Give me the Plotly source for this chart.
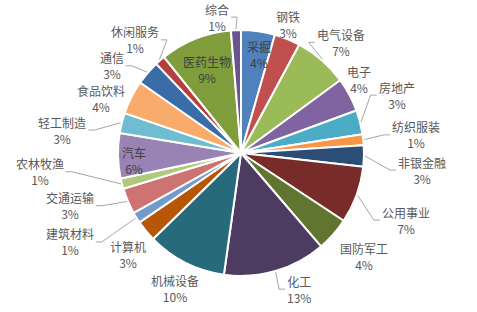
import math
import plotly.graph_objects as go

labels = ["采掘", "钢铁", "电气设备", "电子", "房地产", "纺织服装", "非银金融", "公用事业",
          "国防军工", "化工", "机械设备", "计算机", "建筑材料", "交通运输", "农林牧渔", "汽车",
          "轻工制造", "食品饮料", "通信", "休闲服务", "医药生物", "综合"]
values = [4.45, 3.40, 7.08, 4.45, 3.18, 1.42, 2.81, 7.49, 4.45, 13.49, 10.45, 2.78, 1.45, 3.39,
          1.39, 5.90, 2.67, 4.45, 3.20, 1.33, 9.45, 1.31]
colors = ["#4F81BD", "#C0504D", "#9BBB59", "#8064A2", "#4BACC6", "#F79646", "#2C4D75", "#772C2A",
          "#5F7530", "#4D3B62", "#276A7C", "#B65708", "#729ACA", "#CD7371", "#AFC97A", "#9983B5",
          "#6FBDD1", "#F9AB6B", "#3A6CA8", "#B3403E", "#7F9E3B", "#6B538F"]

# label layout (style): radial distance of label centre (px), angular nudge (deg), inside?, leader line?
label_dist = [100, 137, 149, 139, 166, 176, 182, 178, 161, 148, 151, 152, 193, 179, 202, 107,
              180, 150, 156, 155, 90, 138]
label_nudge = [2.3, -2.1, 1.0, -3.5, -5.9, 0.3, 4.0, 2.2, -1.2, -6.8, -0.9, -2.7, 4.3, 5.9, 9.1,
               -2.9, -6.8, -5.5, -6.7, -2.0, -0.5, -7.6]
inside = {"采掘", "医药生物", "汽车"}
with_line = {"综合", "休闲服务", "通信", "电气设备", "房地产", "纺织服装", "非银金融", "公用事业",
             "化工", "轻工制造", "农林牧渔", "交通运输", "建筑材料"}

W, H = 477, 312
cx, cy, r = 241, 153, 123

fig = go.Figure(go.Pie(
    labels=labels, values=values, sort=False, direction="clockwise", rotation=0,
    marker=dict(colors=colors, line=dict(color="white", width=2)),
    textinfo="none", hoverinfo="label+percent",
    domain=dict(x=[(cx - r) / W, (cx + r) / W], y=[(H - cy - r) / H, (H - cy + r) / H]),
))

total = sum(values)
cum = 0.0
annotations, shapes = [], []
for i, (lab, v) in enumerate(zip(labels, values)):
    mid = (cum + v / 2) / total * 360.0
    cum += v
    pct = f"{round(v / total * 100)}%"
    a = math.radians(mid + label_nudge[i])
    lx = cx + label_dist[i] * math.sin(a)
    ly = cy - label_dist[i] * math.cos(a)
    is_in = lab in inside
    annotations.append(dict(
        x=lx / W, y=1 - ly / H, xref="paper", yref="paper",
        text=f"{lab}<br>{pct}", showarrow=False, xanchor="center", yanchor="middle",
        font=dict(size=12, color="#404040" if is_in else "#595959"),
    ))
    if lab in with_line:
        am = math.radians(mid)
        ex = cx + (r + 1) * math.sin(am)
        ey = cy - (r + 1) * math.cos(am)
        hw = max(len(lab) * 12, len(pct) * 7) / 2
        right = lx > cx
        axp = lx - hw - 2 if right else lx + hw + 2
        elx = axp - 6 if right else axp + 6
        path = f"M {ex/W} {1-ey/H} L {elx/W} {1-ly/H} L {axp/W} {1-ly/H}"
        shapes.append(dict(type="path", path=path, xref="paper", yref="paper",
                           line=dict(color="#A6A6A6", width=1)))

fig.update_layout(
    width=W, height=H, margin=dict(l=0, r=0, t=0, b=0),
    paper_bgcolor="white", showlegend=False,
    font=dict(family="Noto Sans CJK SC, Microsoft YaHei, sans-serif", size=12, color="#595959"),
    annotations=annotations, shapes=shapes,
)
fig.write_html("out.html")
